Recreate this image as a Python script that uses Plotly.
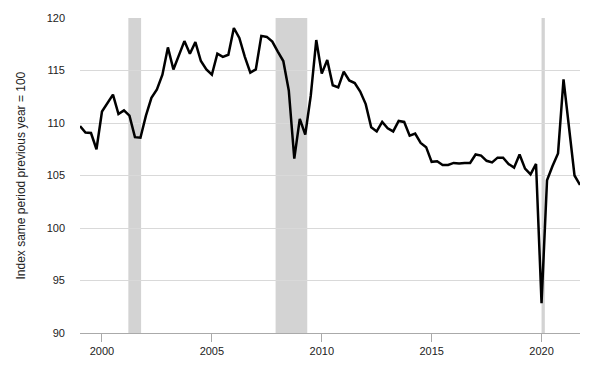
import plotly.graph_objects as go

# Quarterly index values, 1999Q1 .. 2021Q4
years = list(range(1999, 2022))
values = [
    109.7, 109.1, 109.05, 107.5,   # 1999
    111.1, 111.9, 112.7, 110.85,   # 2000
    111.2, 110.7, 108.65, 108.6,   # 2001
    110.7, 112.4, 113.2, 114.6,    # 2002
    117.2, 115.1, 116.5, 117.8,    # 2003
    116.6, 117.7, 115.9, 115.1,    # 2004
    114.6, 116.6, 116.3, 116.5,    # 2005
    119.05, 118.1, 116.3, 114.8,   # 2006
    115.1, 118.3, 118.2, 117.75,   # 2007
    116.8, 115.9, 113.1, 106.6,    # 2008
    110.4, 108.9, 112.6, 117.9,    # 2009
    114.7, 116.0, 113.6, 113.4,    # 2010
    114.9, 114.05, 113.8, 113.0,   # 2011
    111.8, 109.6, 109.2, 110.1,    # 2012
    109.5, 109.2, 110.2, 110.1,    # 2013
    108.8, 109.0, 108.1, 107.7,    # 2014
    106.3, 106.35, 106.0, 106.0,   # 2015
    106.2, 106.15, 106.2, 106.2,   # 2016
    107.0, 106.9, 106.4, 106.25,   # 2017
    106.7, 106.7, 106.1, 105.75,   # 2018
    107.0, 105.65, 105.1, 106.1,   # 2019
    92.85, 104.55, 105.9, 107.1,   # 2020
    114.15, 109.3, 105.0, 104.1,   # 2021
]
quarters = [y + q / 4 for y in years for q in range(4)]

recession_starts = [2001.2, 2007.9, 2020.0]
recession_ends = [2001.78, 2009.34, 2020.15]

y_ticks = [90, 95, 100, 105, 110, 115, 120]
x_ticks = [2000, 2005, 2010, 2015, 2020]

fig = go.Figure()
fig.add_trace(go.Scatter(
    x=quarters, y=values, mode="lines",
    line=dict(color="black", width=2.5),
    showlegend=False, hoverinfo="skip",
))

shapes = []
for s, e in zip(recession_starts, recession_ends):
    shapes.append(dict(type="rect", xref="x", yref="paper", x0=s, x1=e, y0=0, y1=1,
                       fillcolor="#d3d3d3", line=dict(width=0), layer="below"))

font_family = "Liberation Sans, Arial, sans-serif"
fig.update_layout(
    width=600, height=372,
    margin=dict(l=80, r=20, t=15, b=39),
    paper_bgcolor="white", plot_bgcolor="white",
    shapes=shapes,
    font=dict(family=font_family, size=11, color="#222222"),
    xaxis=dict(
        range=[1999.0, 2021.75], tickvals=x_ticks, ticktext=[str(t) for t in x_ticks],
        showgrid=False, zeroline=False,
        showline=True, linecolor="#aaaaaa", linewidth=1,
        ticks="outside", ticklen=8, tickcolor="#aaaaaa", tickwidth=1,
        tickfont=dict(size=11, color="#222222"),
    ),
    yaxis=dict(
        range=[90, 120], tickvals=y_ticks, ticktext=[str(t) for t in y_ticks],
        showgrid=True, gridcolor="#d9d9d9", gridwidth=1, zeroline=False,
        showline=False, ticks="", ticklabelstandoff=14,
        tickfont=dict(size=11, color="#222222"),
    ),
    annotations=[dict(
        text="Index same period previous year = 100",
        xref="paper", yref="paper", x=-0.12, y=0.5,
        xanchor="center", yanchor="middle", textangle=-90,
        showarrow=False, font=dict(size=12, color="#222222", family=font_family),
    )],
)

fig.write_html("out.html")
